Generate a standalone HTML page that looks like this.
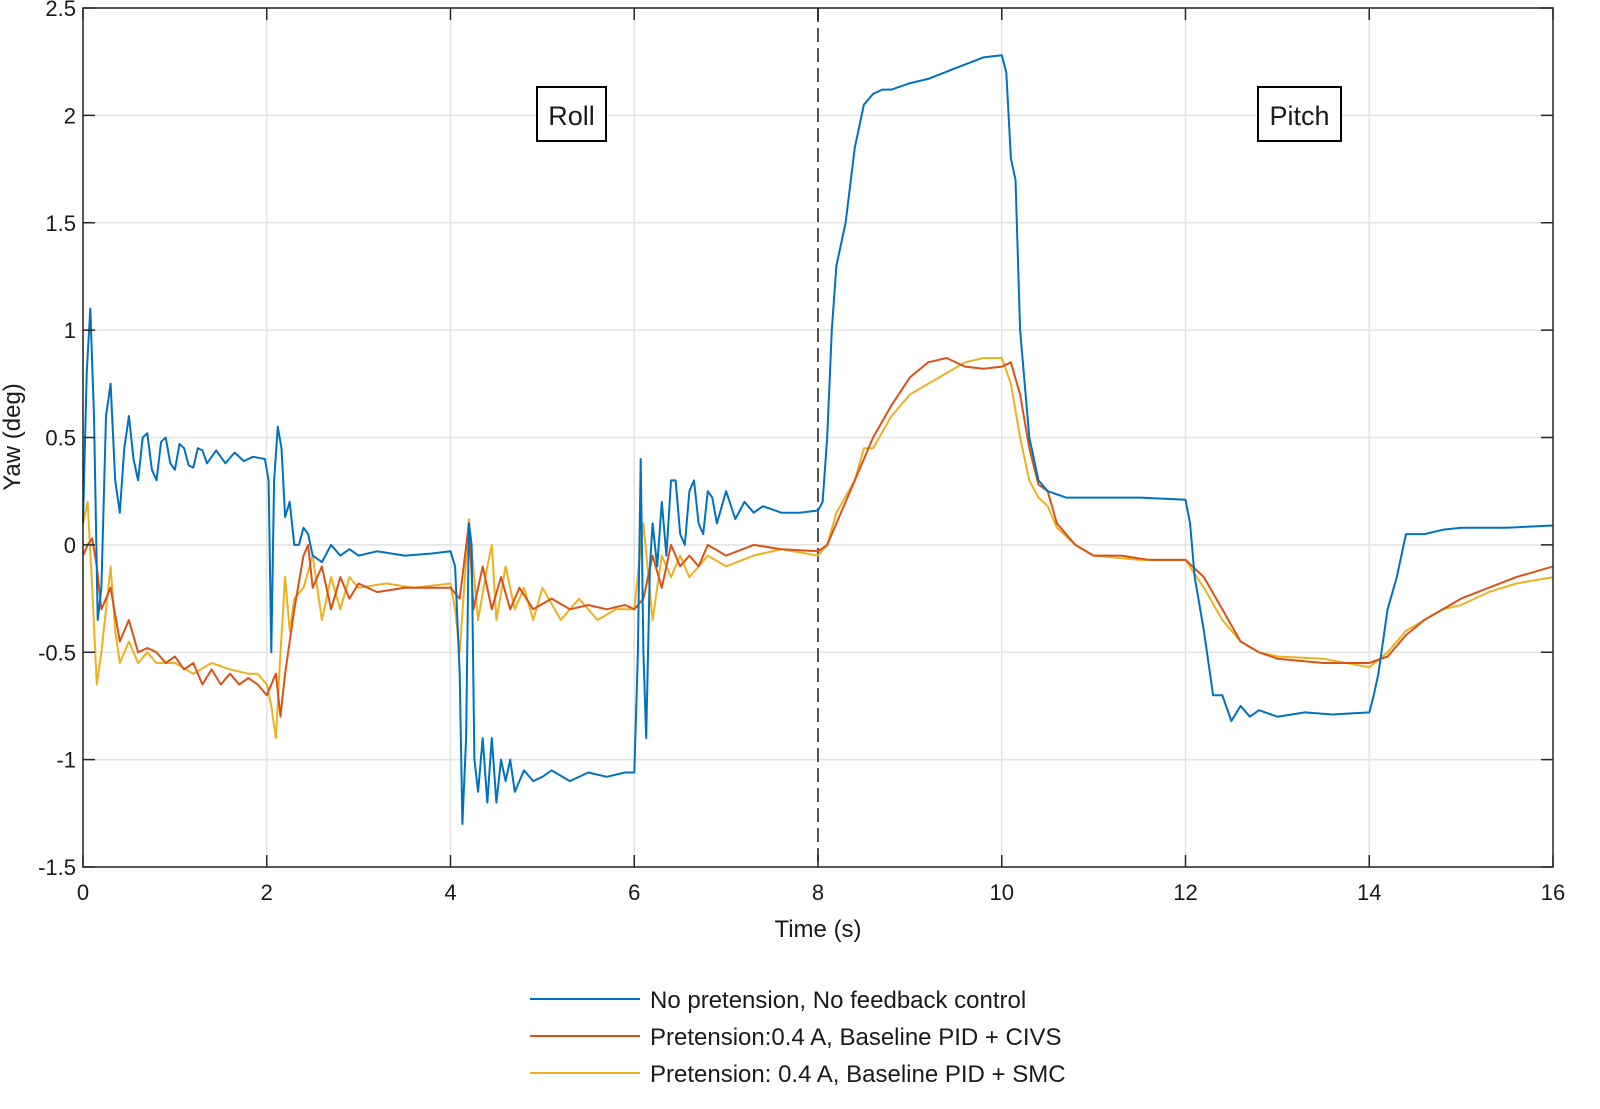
<!DOCTYPE html>
<html><head><meta charset="utf-8"><style>
html,body{margin:0;padding:0;background:#fff;overflow:hidden;width:1600px;height:1109px;}
svg{display:block;}
svg text{font-family:"Liberation Sans",sans-serif;fill:#1a1a1a;}
</style></head><body>
<svg width="1600" height="1109" viewBox="0 0 1600 1109">
<g id="grid"></g>
<g id="series"></g>
<g id="axes"></g>
<rect x="537" y="87" width="69" height="54" fill="#fff" stroke="#000" stroke-width="2"/>
<text x="571.5" y="125" font-size="27" text-anchor="middle">Roll</text>
<rect x="1258" y="87" width="83" height="54" fill="#fff" stroke="#000" stroke-width="2"/>
<text x="1299.5" y="125" font-size="27" text-anchor="middle">Pitch</text>
<text x="818" y="937" font-size="24" text-anchor="middle">Time (s)</text>
<text transform="translate(20,437) rotate(-90)" font-size="24" text-anchor="middle">Yaw (deg)</text>
<g>
<line x1="530" y1="999" x2="640" y2="999" stroke="#0072BD" stroke-width="2"/>
<text x="650" y="1008" font-size="24">No pretension, No feedback control</text>
<line x1="530" y1="1036" x2="640" y2="1036" stroke="#D95319" stroke-width="2"/>
<text x="650" y="1045" font-size="24">Pretension:0.4 A, Baseline PID + CIVS</text>
<line x1="530" y1="1073" x2="640" y2="1073" stroke="#EDB120" stroke-width="2"/>
<text x="650" y="1082" font-size="24">Pretension: 0.4 A, Baseline PID + SMC</text>
</g>
</svg>
<script>
const xTicks=[0,2,4,6,8,10,12,14,16];
const yTicks=[-1.5,-1,-0.5,0,0.5,1,1.5,2,2.5];
const yTickLabels=["-1.5","-1","-0.5","0","0.5","1","1.5","2","2.5"];
const blueT=[0,0.04,0.08,0.12,0.16,0.2,0.25,0.3,0.35,0.4,0.45,0.5,0.55,0.6,0.65,0.7,0.75,0.8,0.85,0.9,0.95,1.0,1.05,1.1,1.15,1.2,1.25,1.3,1.35,1.45,1.55,1.65,1.75,1.85,1.98,2.02,2.05,2.08,2.12,2.16,2.2,2.25,2.3,2.35,2.4,2.45,2.5,2.6,2.7,2.8,2.9,3.0,3.2,3.5,3.8,4.0,4.05,4.1,4.13,4.17,4.2,4.23,4.26,4.3,4.35,4.4,4.45,4.5,4.55,4.6,4.65,4.7,4.8,4.9,5.0,5.1,5.3,5.5,5.7,5.9,6.0,6.04,6.07,6.1,6.13,6.17,6.2,6.25,6.3,6.35,6.4,6.45,6.5,6.55,6.6,6.65,6.7,6.75,6.8,6.85,6.9,7.0,7.1,7.2,7.3,7.4,7.6,7.8,8.0,8.05,8.1,8.15,8.2,8.3,8.4,8.5,8.6,8.7,8.8,9.0,9.2,9.5,9.8,10.0,10.05,10.1,10.15,10.2,10.3,10.4,10.5,10.7,11.0,11.5,12.0,12.05,12.1,12.2,12.3,12.4,12.5,12.6,12.7,12.8,13.0,13.3,13.6,14.0,14.05,14.1,14.2,14.3,14.4,14.5,14.6,14.8,15.0,15.5,16.0];
const blueV=[0.1,0.8,1.1,0.6,-0.35,-0.2,0.6,0.75,0.3,0.15,0.45,0.6,0.4,0.3,0.5,0.52,0.35,0.3,0.48,0.5,0.38,0.35,0.47,0.45,0.37,0.36,0.45,0.44,0.38,0.44,0.38,0.43,0.39,0.41,0.4,0.3,-0.5,0.3,0.55,0.45,0.13,0.2,0.0,0.0,0.08,0.05,-0.05,-0.08,0.0,-0.05,-0.02,-0.05,-0.03,-0.05,-0.04,-0.03,-0.1,-0.6,-1.3,-0.9,0.1,0.0,-1.0,-1.15,-0.9,-1.2,-0.9,-1.2,-1.0,-1.1,-1.0,-1.15,-1.05,-1.1,-1.08,-1.05,-1.1,-1.06,-1.08,-1.06,-1.06,-0.5,0.4,-0.5,-0.9,-0.1,0.1,-0.1,0.2,-0.05,0.3,0.3,0.05,0.0,0.25,0.3,0.1,0.05,0.25,0.22,0.1,0.25,0.12,0.2,0.15,0.18,0.15,0.15,0.16,0.2,0.5,1.0,1.3,1.5,1.85,2.05,2.1,2.12,2.12,2.15,2.17,2.22,2.27,2.28,2.2,1.8,1.7,1.0,0.5,0.3,0.25,0.22,0.22,0.22,0.21,0.1,-0.15,-0.4,-0.7,-0.7,-0.82,-0.75,-0.8,-0.77,-0.8,-0.78,-0.79,-0.78,-0.7,-0.6,-0.3,-0.15,0.05,0.05,0.05,0.07,0.08,0.08,0.09];
const redT=[0,0.05,0.1,0.15,0.2,0.3,0.4,0.5,0.6,0.7,0.8,0.9,1.0,1.1,1.2,1.3,1.4,1.5,1.6,1.7,1.8,1.9,2.0,2.1,2.15,2.2,2.3,2.4,2.45,2.5,2.6,2.7,2.8,2.9,3.0,3.2,3.5,3.8,4.0,4.1,4.2,4.25,4.35,4.45,4.55,4.65,4.75,4.9,5.1,5.3,5.5,5.7,5.9,6.0,6.1,6.2,6.3,6.4,6.5,6.6,6.7,6.8,7.0,7.3,7.6,8.0,8.1,8.2,8.4,8.5,8.6,8.8,9.0,9.2,9.4,9.6,9.8,10.0,10.1,10.2,10.3,10.4,10.5,10.6,10.8,11.0,11.3,11.6,12.0,12.2,12.4,12.6,12.8,13.0,13.5,14.0,14.2,14.4,14.6,14.8,15.0,15.3,15.6,16.0];
const redV=[-0.05,0.0,0.03,-0.1,-0.3,-0.2,-0.45,-0.35,-0.5,-0.48,-0.5,-0.55,-0.52,-0.58,-0.55,-0.65,-0.58,-0.65,-0.6,-0.65,-0.62,-0.65,-0.7,-0.6,-0.8,-0.6,-0.3,-0.05,0.0,-0.2,-0.1,-0.3,-0.15,-0.25,-0.18,-0.22,-0.2,-0.2,-0.2,-0.25,0.1,-0.3,-0.1,-0.3,-0.15,-0.3,-0.2,-0.3,-0.25,-0.3,-0.28,-0.3,-0.28,-0.3,-0.25,-0.05,-0.2,0.0,-0.1,-0.05,-0.1,0.0,-0.05,0.0,-0.02,-0.03,0.0,0.1,0.3,0.4,0.5,0.65,0.78,0.85,0.87,0.83,0.82,0.83,0.85,0.7,0.45,0.28,0.25,0.1,0.0,-0.05,-0.05,-0.07,-0.07,-0.15,-0.3,-0.45,-0.5,-0.53,-0.55,-0.55,-0.52,-0.42,-0.35,-0.3,-0.25,-0.2,-0.15,-0.1];
const yelT=[0,0.05,0.1,0.15,0.2,0.3,0.35,0.4,0.5,0.6,0.7,0.8,1.0,1.2,1.4,1.6,1.8,1.9,2.0,2.05,2.1,2.15,2.2,2.25,2.3,2.4,2.5,2.6,2.7,2.8,2.9,3.0,3.3,3.6,4.0,4.05,4.1,4.2,4.3,4.4,4.45,4.5,4.6,4.7,4.8,4.9,5.0,5.2,5.4,5.6,5.8,6.0,6.05,6.1,6.2,6.3,6.4,6.5,6.6,6.8,7.0,7.3,7.6,8.0,8.1,8.2,8.4,8.5,8.6,8.8,9.0,9.2,9.4,9.6,9.8,10.0,10.1,10.2,10.3,10.4,10.5,10.6,10.8,11.0,11.5,12.0,12.2,12.4,12.6,12.8,13.0,13.5,14.0,14.2,14.4,14.6,14.8,15.0,15.3,15.6,16.0];
const yelV=[0.1,0.2,-0.2,-0.65,-0.5,-0.1,-0.4,-0.55,-0.45,-0.55,-0.5,-0.55,-0.55,-0.6,-0.55,-0.58,-0.6,-0.6,-0.65,-0.75,-0.9,-0.5,-0.15,-0.4,-0.25,-0.2,-0.05,-0.35,-0.15,-0.3,-0.15,-0.2,-0.18,-0.2,-0.18,-0.3,-0.5,0.12,-0.35,-0.1,0.0,-0.35,-0.1,-0.3,-0.2,-0.35,-0.2,-0.35,-0.25,-0.35,-0.3,-0.3,-0.1,0.1,-0.35,-0.05,-0.15,-0.05,-0.15,-0.05,-0.1,-0.05,-0.02,-0.05,0.0,0.15,0.3,0.45,0.45,0.6,0.7,0.75,0.8,0.85,0.87,0.87,0.75,0.5,0.3,0.22,0.18,0.08,0.0,-0.05,-0.07,-0.07,-0.2,-0.35,-0.45,-0.5,-0.52,-0.53,-0.57,-0.5,-0.4,-0.35,-0.3,-0.28,-0.22,-0.18,-0.15];
const L=83,R=1553,T=8,B=867,xmin=0,xmax=16,ymin=-1.5,ymax=2.5;
function xs(t){return L+(t-xmin)/(xmax-xmin)*(R-L);}
function ys(v){return B-(v-ymin)/(ymax-ymin)*(B-T);}
const NS="http://www.w3.org/2000/svg";
function mk(tag,attrs,parent){const e=document.createElementNS(NS,tag);for(const k in attrs)e.setAttribute(k,attrs[k]);parent.appendChild(e);return e;}
const grid=document.getElementById('grid'),axes=document.getElementById('axes'),ser=document.getElementById('series');
mk('rect',{x:L,y:T,width:R-L,height:B-T,fill:'#fff'},grid);
xTicks.forEach(t=>{
 if(t!==8&&t!==16){const g=mk('line',{x1:xs(t),x2:xs(t),y1:T,y2:B,stroke:'#e3e3e3','stroke-width':1.5},grid);
 
 }
 mk('line',{x1:xs(t),x2:xs(t),y1:B,y2:B-12,stroke:'#262626','stroke-width':1.5},axes);
 mk('line',{x1:xs(t),x2:xs(t),y1:T,y2:T+12,stroke:'#262626','stroke-width':1.5},axes);
 const tx=mk('text',{x:xs(t),y:B+33,'font-size':22,'text-anchor':'middle'},axes);tx.textContent=t;
 
 
});
yTicks.forEach((v,i)=>{
 const g=mk('line',{x1:L,x2:R,y1:ys(v),y2:ys(v),stroke:'#e3e3e3','stroke-width':1.5},grid);
 
 
 mk('line',{x1:L,x2:L+12,y1:ys(v),y2:ys(v),stroke:'#262626','stroke-width':1.5},axes);
 mk('line',{x1:R,x2:R-12,y1:ys(v),y2:ys(v),stroke:'#262626','stroke-width':1.5},axes);
 const tx=mk('text',{x:L-7,y:ys(v)+8,'font-size':22,'text-anchor':'end'},axes);tx.textContent=yTickLabels[i];
 
 
});
mk('rect',{x:L,y:T,width:R-L,height:B-T,fill:'none',stroke:'#262626','stroke-width':1.5},axes);
const dl=mk('line',{x1:xs(8),x2:xs(8),y1:T,y2:B,stroke:'#555','stroke-width':2,'stroke-dasharray':'14,6'},ser);


function draw(T_,V,c,name){
 const d=T_.map((t,i)=>(i?'L':'M')+xs(t).toFixed(1)+','+ys(V[i]).toFixed(1)).join('');
 const p=mk('path',{d:d,fill:'none',stroke:c,'stroke-width':2,'stroke-linejoin':'round'},ser);
 
 
}
draw(yelT,yelV,'#EDB120','series-pid-smc');
draw(redT,redV,'#D95319','series-pid-civs');
draw(blueT,blueV,'#0072BD','series-no-pretension');
</script>
</body></html>
